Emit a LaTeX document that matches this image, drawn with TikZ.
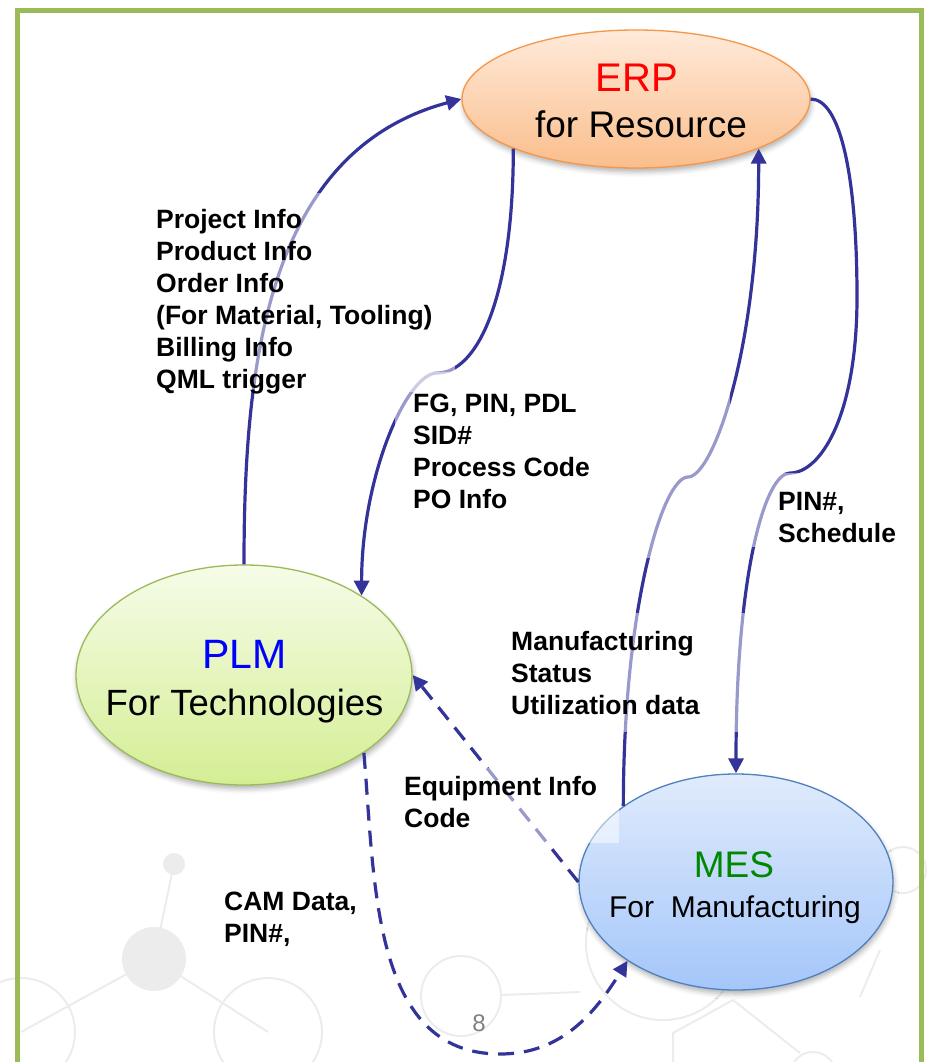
\documentclass[tikz,border=0pt]{standalone}
\usepackage{fontspec}
\setmainfont{Liberation Sans}
\usetikzlibrary{arrows.meta,shapes.geometric,shadows.blur}
\definecolor{flowblue}{RGB}{51,51,153}
\definecolor{framegreen}{RGB}{155,187,89}
\definecolor{erpline}{RGB}{247,150,70}
\definecolor{erptop}{RGB}{255,234,218}
\definecolor{erpbottom}{RGB}{250,190,140}
\definecolor{plmline}{RGB}{155,187,89}
\definecolor{plmtop}{RGB}{246,252,232}
\definecolor{plmbottom}{RGB}{212,238,148}
\definecolor{mesline}{RGB}{79,129,189}
\definecolor{mestop}{RGB}{224,235,252}
\definecolor{mesbottom}{RGB}{164,198,250}
\definecolor{mesgreen}{RGB}{0,136,0}
\definecolor{wmgray}{RGB}{236,236,236}
\tikzset{
  bubble/.style={ellipse, inner sep=0pt, line width=1.3pt,
    blur shadow={shadow xshift=1pt, shadow yshift=-4pt, shadow blur radius=5pt, shadow opacity=30}},
  bubbletext/.style={anchor=base, font=\fontsize{#1}{#1}\selectfont},
  flow/.style={draw=flowblue, line width=3.2pt, -{Triangle[length=15pt,width=15pt]}},
  dashflow/.style={flow, dash pattern=on 16pt off 10pt},
  infotext/.style={anchor=base west, align=left, inner sep=0pt, font=\bfseries\fontsize{26.5}{32}\selectfont},
  veil/.style={fill=white, fill opacity=0.5},
  wmline/.style={draw=wmgray, line width=2pt}
}
\begin{document}
\begin{tikzpicture}[x=1pt,y=1pt]
\useasboundingbox (0,0) rectangle (930,-1062);
% faint background icons
\draw[wmline] (174,-864) -- (154,-959) -- (268,-1032);
\draw[wmline] (154,-959) -- (21,-1032);
\fill[wmgray] (174,-864) circle (11);
\fill[wmgray] (154,-959) circle (32);
\draw[wmline] (268,-1032) circle (54);
\draw[wmline] (21,-1032) circle (54);
\draw[wmline] (461,-996) circle (40);
\draw[wmline] (501,-995) -- (580,-992);
\draw[wmline] (663,-943) circle (77);
\draw[wmline] (733,-1000) -- (800,-1053);
\draw[wmline] (733,-1000) -- (673,-1033) -- (673,-1062);
\draw[wmline] (813,-1075) circle (23);
\draw[wmline] (903,-870) circle (23);
\draw[wmline] (880,-950) -- (860,-997);
% frame
\draw[framegreen, line width=5pt] (17.5,-11) rectangle (921,-1100);
% systems
\node[bubble, draw=erpline, top color=erptop, bottom color=erpbottom,
  minimum width=348pt, minimum height=138pt] (erp) at (636,-99) {};
\node[bubble, draw=plmline, top color=plmtop, bottom color=plmbottom,
  minimum width=336pt, minimum height=220pt] (plm) at (244,-675) {};
\node[bubble, draw=mesline, top color=mestop, bottom color=mesbottom,
  minimum width=314pt, minimum height=216pt] (mes) at (736,-882) {};
% flows
\coordinate (kinkplm) at (437,-373);
\coordinate (kinkerp) at (688,-477);
\coordinate (loopright) at (857,-297);
\coordinate (kinkmes) at (790,-473);
\coordinate (camlow) at (500,-1054);
\draw[flow] (plm.north) to[out=90,in=195] (erp.west);
\draw[flow] (erp.202) to[out=-90,in=0,out distance=150pt,in distance=40pt] (kinkplm)
  to[out=180,in=90,out distance=30pt,in distance=120pt] (plm.34);
\draw[flow] (mes.146) to[out=90,in=180,out distance=200pt,in distance=25pt] (kinkerp)
  to[out=0,in=-90,out distance=25pt,in distance=200pt] (erp.-22);
\draw[flow] (erp.east) to[out=0,in=90,out distance=30pt,in distance=120pt] (loopright)
  to[out=-90,in=0,out distance=120pt,in distance=30pt] (kinkmes)
  to[out=180,in=90,out distance=25pt,in distance=200pt] (mes.north);
\draw[dashflow] (mes.west) -- (plm.east);
\draw[dashflow] (plm.-33) to[out=-85,in=180] (camlow) to[out=0,in=238] (mes.216);
% label backgrounds
\fill[veil] (140,-193) rectangle (455,-392);
\fill[veil] (395,-372) rectangle (730,-558);
\fill[veil] (745,-473) rectangle (905,-547);
\fill[veil] (500,-613) rectangle (762,-732);
\fill[veil] (398,-768) rectangle (619,-843);
% texts
\node[bubbletext=40, text=red] (erptitle) at (637,-92) {ERP};
\node[bubbletext=37] (erpsub) at (641,-137) {for Resource};
\node[bubbletext=41, text=blue] (plmtitle) at (244.5,-668) {PLM};
\node[bubbletext=36.5] (plmsub) at (244.5,-715) {For Technologies};
\node[bubbletext=37, text=mesgreen] (mestitle) at (734,-877) {MES};
\node[bubbletext=30] (messub) at (735,-917) {For\ \ Manufacturing};
\node[infotext] (projinfo) at (156,-388) {Project Info\\Product Info\\Order Info\\(For Material, Tooling)\\Billing Info\\QML trigger};
\node[infotext] (fginfo) at (413,-508) {FG, PIN, PDL\\SID\#\\Process Code\\PO Info};
\node[infotext] (mfginfo) at (511,-714) {Manufacturing\\Status\\Utilization data};
\node[infotext] (pininfo) at (778,-542) {PIN\#,\\Schedule};
\node[infotext] (equipinfo) at (404,-827) {Equipment Info\\Code};
\node[infotext] (caminfo) at (224,-942) {CAM Data,\\PIN\#,};
\node[bubbletext=24, text=gray] (pagenum) at (479,-1031) {8};
\end{tikzpicture}
\end{document}
